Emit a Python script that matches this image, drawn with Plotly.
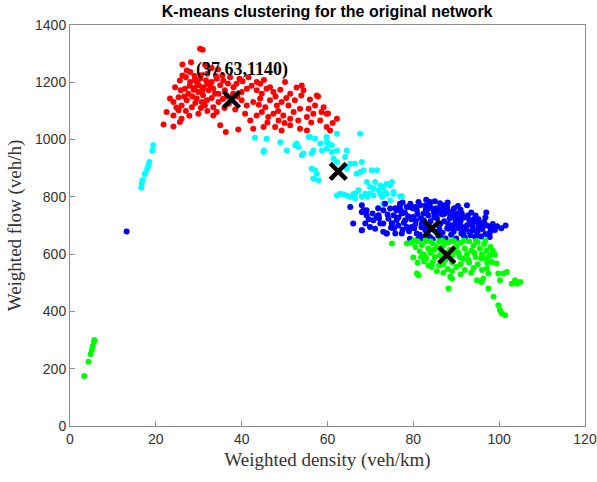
import plotly.graph_objects as go

# ---------------- data (density veh/km, flow veh/h) ----------------
red_pts = [
    (30.3,1317),(30.9,1314),(26.2,1262),(28.2,1270),(27.2,1241),(28.0,1236),(26.2,1224),
    (31.5,1260),(33.0,1250),(34.5,1245),(32.0,1230),(35.5,1225),(30.5,1225),(29.0,1222),
    (25.6,1206),(27.0,1218),(28.0,1201),(29.1,1209),(30.3,1212),(31.7,1206),(33.0,1201),
    (34.2,1212),(35.7,1206),(37.3,1218),(38.8,1195),(40.2,1204),(41.6,1218),(43.5,1201),
    (44.3,1195),(46.6,1183),(50.1,1201),(54.0,1189),
    (24.5,1183),(25.8,1172),(26.8,1177),(27.6,1160),(28.8,1174),(29.9,1166),(31.1,1183),
    (32.3,1172),(33.4,1177),(34.6,1160),(36.1,1172),(38.1,1183),(40.0,1166),(41.2,1177),
    (43.5,1172),(44.7,1160),(45.8,1177),(47.4,1166),(49.0,1174),(51.3,1160),(54.4,1172),
    (57.5,1154),(30.0,1190),(32.0,1195),(29.0,1180),(35.0,1190),(36.5,1150),(38.0,1160),
    (39.0,1150),(31.0,1155),(28.5,1150),(33.0,1145),(37.0,1125),(38.5,1105),(36.0,1110),
    (32.0,1100),(30.5,1110),(27.0,1100),
    (23.3,1143),(24.1,1131),(25.3,1148),(26.0,1119),(27.2,1137),(28.4,1113),(29.5,1143),
    (30.7,1131),(31.9,1137),(33.4,1113),(34.6,1131),(40.0,1137),(41.2,1119),(42.7,1131),
    (44.3,1143),(45.5,1113),(46.6,1137),(48.2,1119),(49.3,1131),(50.9,1119),(52.4,1137),
    (53.6,1108),(55.6,1108),(57.1,1119),(59.1,1113),(57.8,1150),(60.1,1091),
    (22.5,1096),(24.1,1084),(25.3,1102),(26.0,1073),(29.9,1090),(33.4,1084),(34.2,1096),
    (40.8,1090),(42.0,1067),(43.5,1084),(44.7,1096),(46.2,1079),(47.4,1090),(48.6,1067),
    (49.7,1084),(51.3,1073),(52.1,1096),(53.2,1067),(55.2,1079),(56.7,1090),(58.3,1067),
    (59.8,1090),(62.2,1073),
    (21.8,1053),(24.1,1046),(25.6,1061),(35.0,1050),(36.3,1026),(39.2,1035),(42.7,1038),
    (45.1,1044),(47.8,1044),(49.3,1032),(51.3,1050),(53.6,1038),(55.2,1032),(59.8,1044),
    (60.6,1032),
    (29.6,1198),(32.8,1186),(34.0,1222),(36.8,1196),(27.9,1188),(30.8,1172),(33.8,1160),
    (35.6,1142),(29.2,1128),(31.4,1120),(26.6,1150),(24.8,1112),(27.8,1083),(39.5,1212),
    (42.3,1188),(45.2,1208),(47.9,1150),(50.4,1145),(52.8,1182),(55.9,1140),(56.2,1060),
    (50.0,1058),(46.0,1060),(44.0,1122),(58.6,1096),(61.2,1058),(53.9,1154),(48.5,1100),
]

cyan_pts = [
    (19.4,980),(19.2,962),(18.5,922),(18.3,910),(18.0,898),(17.6,883),(17.4,879),
    (16.9,858),(16.7,846),(16.6,832),
    (43.1,1006),(45.8,1003),(45.2,962),(45.1,957),(49.0,991),(50.5,962),(52.5,980),
    (52.8,986),(53.2,974),(54.0,945),(54.4,951),(55.6,1009),(55.9,1009),(57.1,1003),
    (56.3,951),(56.7,962),(58.3,986),(59.8,991),(60.2,986),(59.8,968),(58.7,962),
    (61.0,957),(62.2,1020),(67.6,1020),(61.0,980),(59.8,1009),(62.2,962),
    (56.3,898),(57.5,881),(57.1,893),(57.9,858),(56.7,864),
    (61.4,933),(62.2,922),(64.5,962),(64.1,939),(65.3,916),(66.4,916),(68.0,922),
    (68.4,893),(67.6,887),(66.8,881),(64.5,899),
    (69.2,852),(70.3,893),(71.5,893),(71.1,852),(72.3,840),(73.8,846),(75.0,852),
    (70.7,829),(71.9,823),(73.4,817),(75.4,817),(62.9,811),(64.5,805),(66.1,811),
    (67.2,823),(66.4,794),(68.0,800),(69.2,800),(69.9,811),(72.7,800),(74.6,788),
    (73.0,776),(62.2,805),(63.7,809),(65.3,800),(66.4,811),(69.9,834),(70.7,805),
    (72.3,811),(73.0,834),(73.8,811),(74.6,840),(75.4,811),(76.9,802),(77.3,802),
    (68.8,811),
]

blue_pts = [
    (13.2,679),
    (65.3,765),(68.0,771),(68.4,753),(69.1,736),(66.0,707),(68.0,683),(69.9,695),
    (70.7,718),(71.9,736),(72.3,707),(73.0,753),(73.4,776),(74.6,759),(75.4,736),
    (74.2,724),(75.0,707),(76.1,718),(76.1,753),(76.9,776),(77.3,742),(78.1,718),
    (78.5,695),(75.8,672),(77.3,672),(73.8,672),(73.0,678),(79.2,765),(80.0,730),
    (80.8,753),(81.6,771),(82.4,742),(83.1,765),(79.6,695),(80.8,672),(82.0,707),
    (83.1,683),(81.2,654),(79.2,654),
    (83.9,782),(83.2,771),(85.5,759),(87.0,771),(87.8,753),(88.6,742),(89.4,736),
    (90.1,742),(91.3,742),(92.5,771),(89.8,707),(90.9,701),(92.5,701),(93.3,707),
    (94.0,683),(96.0,695),(91.7,683),(82.4,718),(82.8,683),(86.3,707),(85.5,678),
    (88.2,689),(89.4,678),(91.7,666),(93.3,666),(94.8,666),(94.4,660),(86.3,660),
    (83.9,660),
    (68.0,747),(69.1,753),(68.8,707),(68.0,683),(71.1,689),(71.5,730),(73.0,707),
    (73.8,672),(75.0,707),(76.9,770),(78.5,765),(79.3,776),(80.4,765),(82.8,770),
    (83.1,747),(83.9,776),(85.1,759),(86.6,765),(87.8,770),(88.9,747),(89.7,736),
    (90.9,730),(93.6,712),(95.2,695),
    (78.0,745),(79.5,722),(80.5,705),(81.0,740),(81.8,725),(82.5,700),(83.5,735),
    (84.0,715),(84.8,745),(85.5,725),(86.0,698),(86.8,738),(87.2,715),(87.9,690),
    (88.5,725),(89.0,700),(89.8,720),(90.5,690),(91.0,715),(91.8,728),(92.2,690),
    (93.0,720),(93.8,695),(94.5,712),(95.5,705),(96.5,712),(97.2,700),(98.0,690),
    (79.0,680),(80.2,690),(81.5,668),(82.0,655),(83.2,668),(84.5,652),(85.8,665),
    (86.8,675),(87.5,655),(88.8,668),(90.0,655),(91.2,672),(92.0,656),(93.0,678),
    (95.8,662),(96.8,670),(97.8,660),(76.5,700),(77.5,685),(75.5,690),
    (79.8,760),(81.2,782),(83.0,790),(85.0,785),(86.2,778),(88.0,780),(84.0,760),
    (86.5,752),(89.5,760),(91.0,755),(93.5,745),(94.5,735),(95.2,722),(96.8,728),
    (98.5,705),(99.5,697),(100.5,690),(101.5,700),(97.0,745),(72.0,725),(70.5,742),
    (74.0,738),(76.5,728),(77.8,710),(75.8,760),(77.5,780),
    (80.6,718),(81.9,694),(83.6,702),(84.9,729),(86.1,684),(87.4,742),(88.1,706),
    (89.2,690),(90.3,703),(91.6,694),(92.7,735),(94.1,722),(95.0,680),(96.1,688),
    (97.9,676),(99.0,684),(78.8,732),(77.0,756),(82.9,756),(85.6,742),(87.9,760),
    (90.4,768),(74.8,692),(71.8,760),(69.6,722),
]

green_pts = [
    (3.3,175),(4.3,224),(4.8,251),(5.1,265),(5.3,279),(5.6,294),(5.7,300),
    (79.5,640),(80.5,625),(81.0,645),(81.5,610),(82.0,632),(82.5,598),(83.0,645),
    (83.5,620),(84.0,605),(84.5,638),(85.0,590),(85.5,625),(86.0,645),(86.5,610),
    (87.0,630),(87.5,580),(88.0,640),(88.5,615),(89.0,595),(89.5,645),(90.0,625),
    (90.5,605),(91.0,640),(91.5,585),(92.0,620),(92.5,600),(93.0,645),(93.5,612),
    (94.0,630),(94.5,590),(95.0,642),(95.5,620),(96.0,600),(96.5,635),(97.0,612),
    (97.5,590),(98.0,625),(80.0,588),(81.0,570),(82.5,575),(83.5,560),(84.5,572),
    (86.0,560),(87.0,565),(88.0,548),(89.0,572),(90.0,555),(91.0,565),(92.0,545),
    (93.0,570),(94.0,552),(95.0,565),(96.0,545),(81.8,590),(83.0,585),(84.8,615),
    (86.2,595),(87.8,605),(89.5,610),(90.8,590),(92.8,580),(94.2,605),(95.8,585),
    (97.2,570),(85.5,540),(87.0,535),(89.0,540),(91.0,530),(93.5,535),(84.0,645),
    (86.8,648),(88.8,646),(91.8,648),(94.6,646),(96.8,648),(82.8,648),(80.2,648),
    (98.5,612),(99.0,598),(78.5,637),(75.0,637),(80.8,532),(81.2,526),(84.3,555),
    (88.2,480),(88.6,521),(89.0,515),(94.8,509),(95.9,503),(96.3,515),(97.5,480),
    (97.9,596),(98.3,573),(99.4,567),(97.5,532),(99.8,532),(101.0,532),(100.2,509),
    (98.7,451),(99.8,422),(100.2,404),(100.6,393),(101.4,387),(102.9,497),(103.7,509),
    (104.5,500),(97.1,585),(97.1,550),(101.8,538),(104.1,497),(104.9,503),
]

centroid_x = [37.63, 62.5, 84.3, 87.8]
centroid_y = [1140, 889, 689, 597]

annot_text = "(37.63,1140)"
title_text = "K-means clustering for the original network"
x_title = "Weighted density (veh/km)"
y_title = "Weighted flow (veh/h)"
x_ticks = [0, 20, 40, 60, 80, 100, 120]
y_ticks = [0, 200, 400, 600, 800, 1000, 1200, 1400]

# ---------------- figure ----------------
fig = go.Figure()
for pts, col in [(red_pts, "#FF0000"), (cyan_pts, "#00FFFF"),
                 (blue_pts, "#0000FF"), (green_pts, "#00FF00")]:
    fig.add_trace(go.Scatter(
        x=[p[0] for p in pts], y=[p[1] for p in pts], mode="markers",
        marker=dict(color=col, size=6, line=dict(width=0)),
        showlegend=False, hoverinfo="skip"))

fig.add_trace(go.Scatter(
    x=centroid_x, y=centroid_y, mode="markers",
    marker=dict(symbol="x-thin", size=16, color="black",
                line=dict(color="black", width=4.5)),
    showlegend=False))

fig.add_annotation(x=centroid_x[0] - 8.8, y=1245, text=f"<b>{annot_text}</b>",
                   showarrow=False, xanchor="left", yanchor="middle",
                   font=dict(family="Liberation Serif", size=18, color="black"))

axis_common = dict(showline=True, mirror=True, linecolor="#8c8c8c", linewidth=1,
                   ticks="inside", ticklen=5, tickcolor="#8c8c8c",
                   showgrid=False, zeroline=False, automargin=False,
                   tickfont=dict(family="Liberation Sans", size=14, color="#333333"))

fig.update_xaxes(range=[0, 120], tickvals=x_ticks, **axis_common,
                 title=dict(text=x_title, standoff=6,
                            font=dict(family="Liberation Serif", size=19, color="#333333")))
fig.update_yaxes(range=[0, 1400], tickvals=y_ticks, **axis_common,
                 title=dict(text=y_title, standoff=8,
                            font=dict(family="Liberation Serif", size=19, color="#333333")))

fig.update_layout(
    width=597, height=482,
    margin=dict(l=70, r=12, t=25, b=56),
    plot_bgcolor="white", paper_bgcolor="white",
    title=dict(text=f"<b>{title_text}</b>", x=0.548, xanchor="center",
               y=0.988, yanchor="top",
               font=dict(family="Liberation Sans", size=16, color="black")),
)

fig.write_html("out.html")
